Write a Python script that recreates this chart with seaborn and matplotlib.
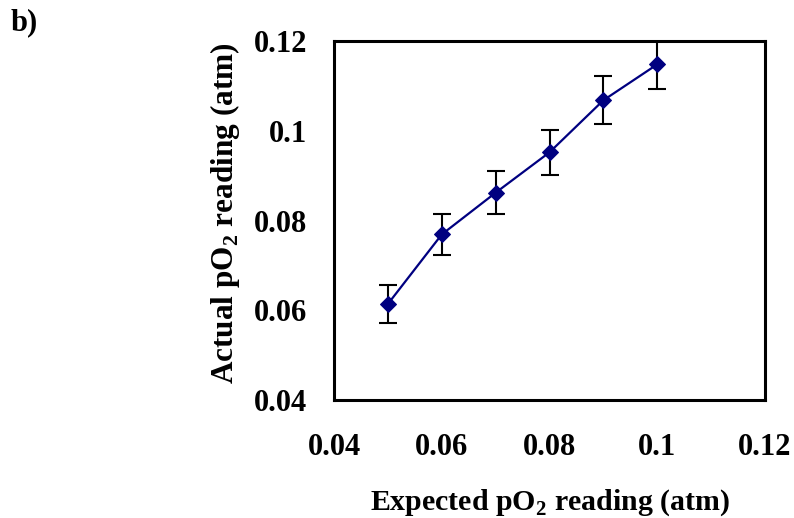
import matplotlib
matplotlib.use("Agg")
import matplotlib.pyplot as plt
import seaborn as sns
import pandas as pd

expected = [0.05, 0.06, 0.07, 0.08, 0.09, 0.10]
actual = [0.0614, 0.0769, 0.0862, 0.0952, 0.1068, 0.1148]
err = [0.0043, 0.0046, 0.0048, 0.0050, 0.0053, 0.0056]
ticks = [0.04, 0.06, 0.08, 0.1, 0.12]
tick_labels = ["0.04", "0.06", "0.08", "0.1", "0.12"]

df = pd.DataFrame({"expected": expected, "actual": actual})

sns.set_style("white")
plt.rcParams["font.family"] = ["Liberation Serif", "DejaVu Serif"]
plt.rcParams["font.weight"] = "bold"
plt.rcParams["mathtext.fontset"] = "custom"
plt.rcParams["mathtext.rm"] = "Liberation Serif:bold"
plt.rcParams["mathtext.bf"] = "Liberation Serif:bold"
plt.rcParams["text.color"] = "black"
plt.rcParams["axes.labelcolor"] = "black"
plt.rcParams["xtick.color"] = "black"
plt.rcParams["ytick.color"] = "black"

fig = plt.figure(figsize=(7.94, 5.18), dpi=100)
ax = fig.add_axes([0.4207, 0.2278, 0.5428, 0.693])

ax.errorbar(expected, actual, yerr=err, fmt="none", ecolor="black",
            elinewidth=1.5, capsize=6.5, capthick=1.5, zorder=2)
sns.lineplot(data=df, x="expected", y="actual", ax=ax, color="#000080",
             marker="D", markersize=8.5, markeredgecolor="#000080",
             linewidth=1.6, zorder=3)

ax.set_xlim(0.04, 0.12)
ax.set_ylim(0.04, 0.12)
ax.set_xticks(ticks)
ax.set_xticklabels(tick_labels)
ax.set_yticks(ticks)
ax.set_yticklabels(tick_labels)
ax.tick_params(axis="y", direction="in", length=5, width=1.5, pad=19.5, labelsize=22)
ax.tick_params(axis="x", length=0, pad=24, labelsize=22)
for s in ax.spines.values():
    s.set_visible(True)
    s.set_linewidth(2.2)
    s.set_color("black")

ax.set_xlabel(r"Expected pO$_2$ reading (atm)", fontsize=21.5, fontweight="bold")
ax.set_ylabel(r"Actual pO$_2$ reading (atm)", fontsize=22.5, fontweight="bold")
ax.xaxis.set_label_coords(0.5, -0.287)
ax.xaxis.label.set_va("center")
ax.yaxis.set_label_coords(-0.253, 0.52)
ax.yaxis.label.set_va("center")

fig.text(0.013, 0.957, "b)", fontsize=22, fontweight="bold", va="center")

fig.savefig("out.png", dpi=100)
